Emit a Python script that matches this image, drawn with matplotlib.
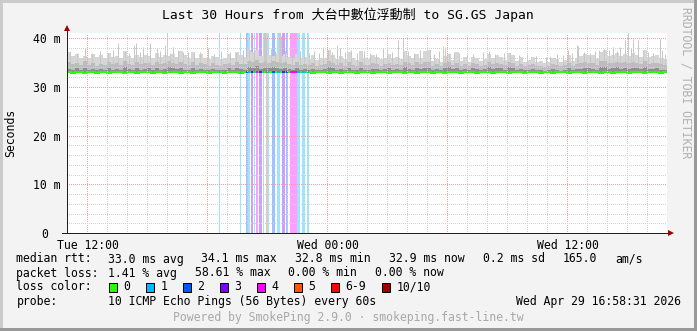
import matplotlib
matplotlib.use("Agg")
import matplotlib.pyplot as plt
from matplotlib.patches import Rectangle, Polygon
from matplotlib.colors import to_rgb
from matplotlib.transforms import ScaledTranslation
from datetime import datetime, timedelta

# ---------------- data ----------------
title = "Last 30 Hours from 大台中數位浮動制 to SG.GS Japan"
end_time = datetime(2026, 4, 29, 16, 58, 31)
span_hours = 30
bin_minutes = 12
x_label_times = [datetime(2026, 4, 28, 12, 0), datetime(2026, 4, 29, 0, 0), datetime(2026, 4, 29, 12, 0)]
y_ticks_ms = [0, 10, 20, 30, 40]
y_tick_labels = ["0", "10 m", "20 m", "30 m", "40 m"]

median_ms = [
    33.0, 32.9, 33.0, 33.0, 32.9, 33.0, 33.0, 32.9, 33.0, 33.0, 32.9, 33.0, 33.0, 33.0, 32.9,
    33.0, 33.0, 32.9, 33.0, 33.0, 33.0, 32.9, 33.0, 33.0, 32.9, 33.0, 33.0, 33.0, 32.9, 33.0,
    33.0, 32.9, 33.0, 33.0, 33.0, 32.9, 33.0, 33.0, 33.0, 32.9, 33.0, 33.0, 33.0, 32.9, 33.0,
    33.0, 33.1, 33.0, 33.1, 33.0, 33.0, 33.1, 33.0, 33.0, 33.1, 33.0, 33.0, 33.1, 33.0, 33.0,
    33.0, 32.9, 33.0, 33.0, 33.0, 32.9, 33.0, 33.0, 32.9, 33.0, 33.0, 33.0, 32.9, 33.0, 33.0,
    33.0, 32.9, 33.0, 33.0, 33.0, 32.9, 33.0, 33.0, 33.0, 32.9, 33.0, 33.0, 32.9, 33.0, 33.0,
    33.0, 32.9, 33.0, 33.0, 32.9, 33.0, 33.0, 33.0, 32.9, 33.0, 33.0, 33.0, 32.9, 33.0, 33.0,
    33.0, 32.9, 33.0, 33.0, 33.0, 32.9, 33.0, 33.0, 33.0, 32.9, 33.0, 33.0, 33.0, 32.9, 33.0,
    33.0, 32.9, 33.0, 33.0, 33.0, 32.9, 33.0, 33.0, 33.0, 32.9, 33.0, 33.0, 33.0, 32.9, 33.0,
    33.0, 32.9, 33.0, 33.0, 33.0, 32.9, 33.0, 33.0, 33.0, 32.9, 33.0, 33.0, 33.0, 32.9, 33.0,
]

smoke_hi = [
    37.2, 36.3, 36.8, 36.0, 36.4, 35.8, 36.8, 36.1, 36.5, 35.9, 36.9, 36.2, 36.4, 35.8, 37.4,
    36.3, 35.9, 36.6, 36.2, 36.5, 36.3, 36.0, 36.9, 36.2, 36.6, 36.4, 36.8, 36.1, 37.4, 36.5,
    35.8, 37.2, 35.9, 36.8, 36.0, 35.6, 36.3, 36.2, 35.7, 35.9, 36.8, 36.0, 37.2, 36.5, 36.2,
    37.5, 37.2, 37.5, 36.4, 36.8, 36.5, 36.3, 36.9, 36.4, 36.8, 36.2, 36.0, 36.8, 35.9, 36.2,
    35.6, 36.5, 35.4, 35.8, 36.0, 37.5, 36.6, 35.7, 36.4, 35.6, 37.2, 35.9, 35.5, 37.4, 35.8,
    35.6, 36.5, 36.2, 35.7, 36.0, 36.8, 35.9, 36.2, 35.7, 37.4, 36.3, 35.9, 36.8, 36.0, 37.4,
    37.5, 35.2, 35.6, 35.0, 36.3, 36.8, 35.4, 37.1, 35.3, 36.2, 35.1, 36.2, 35.9, 35.2, 35.6,
    36.8, 36.0, 36.5, 36.2, 35.4, 36.9, 36.6, 35.3, 36.2, 35.0, 35.4, 36.2, 35.1, 35.2, 34.9,
    35.0, 35.8, 35.6, 35.1, 35.4, 36.6, 35.3, 35.9, 36.3, 36.8, 36.6, 36.5, 35.8, 37.2, 37.5,
    36.3, 36.5, 37.0, 36.4, 36.8, 36.3, 36.9, 36.5, 36.2, 37.5, 36.2, 36.4, 36.5, 36.0, 35.6,
]

smoke_mid = [
    35.0, 34.6, 34.9, 34.4, 35.2, 34.5, 34.8, 34.3, 34.7, 34.5, 35.0, 34.6, 34.9, 34.4, 35.3,
    34.7, 34.4, 35.0, 34.6, 34.8, 34.9, 34.5, 35.1, 34.6, 34.8, 35.2, 34.9, 34.7, 35.0, 34.6,
    34.5, 35.0, 34.4, 34.9, 34.6, 34.3, 34.8, 34.5, 34.3, 34.6, 34.9, 34.4, 35.0, 34.7, 34.6,
    35.3, 35.1, 35.4, 34.8, 35.0, 34.9, 35.2, 35.0, 34.8, 35.1, 34.7, 34.5, 35.0, 34.5, 34.6,
    34.4, 34.8, 34.3, 34.5, 34.6, 35.2, 34.9, 34.4, 34.8, 34.3, 35.0, 34.5, 34.3, 35.1, 34.5,
    34.4, 34.8, 34.6, 34.3, 34.6, 34.9, 34.4, 34.7, 34.4, 35.1, 34.8, 34.5, 35.0, 34.6, 35.0,
    35.0, 34.3, 34.6, 34.2, 34.8, 35.0, 34.4, 34.9, 34.3, 34.7, 34.2, 34.8, 34.6, 34.3, 34.5,
    35.0, 34.6, 34.8, 34.7, 34.4, 35.0, 34.8, 34.3, 34.6, 34.2, 34.4, 34.6, 34.2, 34.3, 34.1,
    34.2, 34.6, 34.5, 34.2, 34.4, 34.9, 34.3, 34.6, 34.8, 35.0, 34.9, 34.8, 34.5, 35.2, 35.3,
    34.8, 34.9, 35.1, 34.8, 35.0, 34.8, 35.1, 34.9, 34.7, 35.3, 34.7, 34.8, 34.9, 34.6, 34.4,
]

smoke_low = [
    33.6, 33.5, 33.8, 33.4, 33.9, 33.5, 33.7, 33.4, 33.6, 33.5, 33.9, 33.5, 33.7, 33.4, 34.0,
    33.6, 33.4, 33.8, 33.5, 33.7, 33.8, 33.5, 33.9, 33.5, 33.7, 34.1, 33.8, 33.6, 33.9, 33.5,
    33.5, 33.8, 33.4, 33.7, 33.5, 33.4, 33.6, 33.5, 33.4, 33.5, 33.8, 33.4, 33.9, 33.6, 33.5,
    34.0, 33.9, 34.2, 33.7, 33.9, 33.8, 34.0, 33.9, 33.7, 33.9, 33.6, 33.5, 33.8, 33.5, 33.6,
    33.5, 33.7, 33.4, 33.5, 33.6, 34.0, 33.8, 33.4, 33.7, 33.4, 33.9, 33.5, 33.4, 33.9, 33.5,
    33.4, 33.7, 33.6, 33.4, 33.6, 33.8, 33.4, 33.6, 33.4, 34.0, 33.7, 33.5, 33.8, 33.6, 33.8,
    33.9, 33.5, 33.7, 33.4, 33.8, 34.0, 33.6, 33.9, 33.5, 33.7, 33.4, 33.8, 33.7, 33.5, 33.6,
    34.0, 33.7, 33.9, 33.8, 33.5, 34.0, 33.8, 33.5, 33.7, 33.4, 33.5, 33.7, 33.4, 33.5, 33.3,
    33.4, 33.6, 33.5, 33.3, 33.5, 33.8, 33.4, 33.6, 33.7, 33.9, 33.8, 33.7, 33.5, 34.0, 34.1,
    33.7, 33.8, 34.0, 33.7, 33.9, 33.7, 33.9, 33.8, 33.6, 34.1, 33.6, 33.7, 33.8, 33.5, 33.4,
]

# thin smoke spikes: minutes after start, top of smoke (ms)
spike_min = [54, 154, 202, 207, 229, 249, 269, 294, 299, 319, 424, 529, 590, 593, 596,
             635, 638, 641, 769, 809, 819, 948, 960, 994, 1009, 1089, 1129, 1134, 1504,
             1529, 1534, 1639, 1659, 1674, 1684, 1699, 1714, 1779, 1784,
             9, 30, 75, 99, 123, 138, 174, 186, 219, 240, 279, 309, 333, 348,
             363, 381, 399, 441, 462, 489, 507, 546, 561, 612, 624, 654, 675, 699, 711,
             726, 741, 756, 783, 795, 834, 852, 870, 891, 909, 927, 975, 1023, 1041, 1059,
             1101, 1116, 1146, 1161, 1176, 1200, 1218, 1248, 1266, 1284, 1311, 1329, 1356,
             1380, 1407, 1437, 1449, 1470, 1488, 1515, 1551, 1569, 1584, 1596, 1611, 1626,
             1650, 1692, 1728, 1743, 1758, 1794]
spike_ms = [37.9, 38.9, 38.6, 39.0, 38.2, 38.9, 37.9, 38.6, 41.5, 38.2, 37.9, 37.5, 41.5, 41.5, 40.0,
            41.5, 41.5, 40.5, 38.2, 38.6, 37.9, 37.9, 37.9, 39.5, 40.1, 37.5, 38.4, 38.2, 37.5,
            38.6, 38.4, 38.2, 38.2, 39.5, 41.5, 39.8, 39.5, 39.8, 37.5,
            37.2, 36.9, 37.0, 37.3, 37.0, 37.6, 37.4, 36.9, 37.2, 37.0, 37.3, 37.0, 37.6, 37.1,
            37.2, 36.9, 37.1, 36.8, 37.3, 37.2, 37.0, 37.6, 37.3, 37.8, 37.4, 37.6, 37.2, 37.4, 37.0,
            36.9, 37.3, 37.0, 37.6, 37.2, 37.1, 37.5, 36.9, 37.4, 37.0, 36.8, 37.2, 37.3, 37.0, 37.6,
            36.8, 37.3, 37.0, 37.2, 36.9, 36.7, 36.8, 37.1, 37.3, 36.8, 37.0, 36.9, 36.6,
            36.8, 36.4, 36.2, 36.3, 36.8, 36.6, 36.9, 37.1, 37.0, 37.3, 37.6, 37.8, 37.5,
            37.4, 37.9, 37.5, 37.2, 37.0, 36.8]

# packet loss events: start minute after start, duration (min), lost pings of 10
loss_start_min = [456, 519, 537, 543, 552, 559.5, 567, 576, 586.5, 597, 600, 614, 629, 644, 657,
                  669, 690, 704, 721]
loss_dur_min = [3, 4, 6, 6, 6, 4.5, 6, 9, 4.5, 3, 6, 10, 10, 10, 6, 21, 9, 10, 6]
loss_count = [1, 1, 2, 1, 3, 1, 4, 3, 1, 5, 1, 2, 1, 3, 2, 4, 1, 1, 1]

loss_labels = ["0", "1", "2", "3", "4", "5", "6-9", "10/10"]
loss_colors = ["#26ff00", "#00b8ff", "#0059ff", "#7e00ff", "#ff00ff", "#ff5500", "#ff0000", "#a10000"]

rtt_head = "median rtt:"
rtt_items = ["33.0 ms avg", "34.1 ms max", "32.8 ms min", "32.9 ms now", "0.2 ms sd", "165.0", "am/s"]
loss_head = "packet loss:"
loss_items = ["1.41 % avg", "58.61 % max", "0.00 % min", "0.00 % now"]
color_head = "loss color:"
probe_label = "probe:"
probe_text = "10 ICMP Echo Pings (56 Bytes) every 60s"
date_text = "Wed Apr 29 16:58:31 2026"
footer = "Powered by SmokePing 2.9.0 · smokeping.fast-line.tw"
watermark = "RRDTOOL / TOBI OETIKER"
y_label = "Seconds"

# ---------------- layout ----------------
W, H, DPI = 697, 331, 100
PX = 72.0 / DPI
MONO = ["DejaVu Sans Mono", "Noto Sans CJK TC"]
FS = 8.3
CW = 0.6021 * FS / PX      # monospace advance in pixels
GAP = 17.5                 # rrdtool legend item gap in pixels

def fx(x):
    return x / W

def fy(y):
    return 1 - y / H

fig = plt.figure(figsize=(W / DPI, H / DPI), dpi=DPI)
fig.patch.set_facecolor("#f3f3f3")

# 3D frame of rrdtool
fig.patches.append(Rectangle((0, fy(3)), 1, 3 / H, transform=fig.transFigure,
                             facecolor="#cbcbcb", lw=0))
fig.patches.append(Rectangle((0, 0), 3 / W, 1, transform=fig.transFigure,
                             facecolor="#cbcbcb", lw=0))
fig.patches.append(Rectangle((fx(W - 3), 0), 3 / W, 1, transform=fig.transFigure,
                             facecolor="#999999", lw=0))
fig.patches.append(Rectangle((0, 0), 1, 3 / H, transform=fig.transFigure,
                             facecolor="#999999", lw=0))

L, R, T, B = 67, 667, 33, 233
ax = fig.add_axes([fx(L), fy(B), (R - L) / W, (B - T) / H])
ax.set_facecolor("white")
for s in ax.spines.values():
    s.set_visible(False)

start_time = end_time - timedelta(hours=span_hours)
span_min = span_hours * 60
ax.set_xlim(0, span_min)
ax.set_ylim(0, (B - T) / 4.875)

def tmin(dt):
    return (dt - start_time).total_seconds() / 60.0

edges = [i * bin_minutes for i in range(len(smoke_hi) + 1)]

def tint(c, a=0.38):
    r, g, b = to_rgb(c)
    return (1 - a + a * r, 1 - a + a * g, 1 - a + a * b)

def loss_idx(n):
    if n <= 5:
        return n
    if n < 10:
        return 6
    return 7

# loss background
for s, d, n in zip(loss_start_min, loss_dur_min, loss_count):
    ax.axvspan(s, s + d, color=tint(loss_colors[loss_idx(n)]), lw=0, zorder=1)

# smoke
ax.stairs(smoke_hi, edges, baseline=median_ms, fill=True, color="#d6d6d6", lw=0, zorder=2)
ax.vlines(spike_min, 33.0, spike_ms, colors="#c8c8c8", lw=1 * PX, zorder=2)
ax.stairs(smoke_mid, edges, baseline=median_ms, fill=True, color="#bdbdbd", lw=0, zorder=3)
ax.stairs(smoke_low, edges, baseline=median_ms, fill=True, color="#8e8e8e", lw=0, zorder=4)

# median line
ax.stairs(median_ms, edges, color=loss_colors[0], lw=2 * PX, zorder=5, baseline=None)
for s, d, n in zip(loss_start_min, loss_dur_min, loss_count):
    i = int(s // bin_minutes)
    ax.hlines(median_ms[i], s, s + d, colors=loss_colors[loss_idx(n)], lw=2 * PX, zorder=6)

# grid
t = start_time.replace(minute=0, second=0) + timedelta(hours=1)
while t < end_time:
    major = t.hour % 6 == 0
    ax.axvline(tmin(t), color="#f0a0a0" if major else "#d2d2d2", lw=1 * PX,
               dashes=(1, 2), zorder=7, antialiased=False)
    t += timedelta(hours=1)
for v in range(2, 42, 2):
    major = v % 10 == 0
    ax.axhline(v, color="#f0a0a0" if major else "#d2d2d2", lw=1 * PX,
               dashes=(1, 2), zorder=7, antialiased=False)

# ticks
ax.set_xticks([tmin(d) for d in x_label_times],
              [d.strftime("%a %H:%M") for d in x_label_times])
ax.set_yticks(y_ticks_ms, y_tick_labels)
ax.tick_params(axis="both", length=0, labelsize=FS, colors="#000000")
ax.tick_params(axis="x", pad=4)
ax.tick_params(axis="y", pad=5)
for lab in ax.get_xticklabels() + ax.get_yticklabels():
    lab.set_family(MONO)
zero_lab = ax.yaxis.get_major_ticks()[0].label1
zero_lab.set_transform(zero_lab.get_transform() + ScaledTranslation(-11.5 / DPI, 0, fig.dpi_scale_trans))

# axes lines with arrows
ax.plot([0, 0], [-0.1, 41.6], color="#202020", lw=1 * PX, clip_on=False, zorder=8)
ax.plot([-15, span_min + 9], [0, 0], color="#202020", lw=1 * PX, clip_on=False, zorder=8)
axis_red = "#a00000"
fig.patches.append(Polygon([(fx(64), fy(31)), (fx(70), fy(31)), (fx(67), fy(25))],
                           closed=True, transform=fig.transFigure, color=axis_red, lw=0))
fig.patches.append(Polygon([(fx(668), fy(230)), (fx(668), fy(236)), (fx(674), fy(233))],
                           closed=True, transform=fig.transFigure, color=axis_red, lw=0))

# texts
fig.text(fx(348), fy(15), title, ha="center", va="center", fontsize=9.4, family=MONO)
fig.text(fx(11), fy(133), y_label, ha="center", va="center", rotation=90, fontsize=FS, family=MONO)
fig.text(fx(686), fy(83), watermark, ha="center", va="center", rotation=270, fontsize=FS,
         family=MONO, color="#b0b0b0")

def legend_row(y, head, items, x0=107.6):
    fig.text(fx(16.4), fy(y), head, ha="left", va="center", fontsize=FS, family=MONO)
    x = x0
    for it in items:
        fig.text(fx(x), fy(y), it, ha="left", va="center", fontsize=FS, family=MONO)
        x += len(it) * CW + GAP

legend_row(259, rtt_head, rtt_items)
legend_row(273, loss_head, loss_items)
fig.text(fx(16.4), fy(287), color_head, ha="left", va="center", fontsize=FS, family=MONO)
x = 108.5
for lab, col in zip(loss_labels, loss_colors):
    fig.patches.append(Rectangle((fx(x), fy(291.5)), 8 / W, 9 / H, transform=fig.transFigure,
                                 facecolor=col, edgecolor="black", lw=1 * PX))
    fig.text(fx(x + 15), fy(287), lab, ha="left", va="center", fontsize=FS, family=MONO)
    x += 15 + 7 * len(lab) + 15
legend_row(301, probe_label, [probe_text])
fig.text(fx(681), fy(301), date_text, ha="right", va="center", fontsize=FS, family=MONO)
fig.text(fx(348.5), fy(318), footer, ha="center", va="center", fontsize=FS, family=MONO,
         color="#a8a8a8")

fig.savefig("out.png", dpi=DPI, facecolor=fig.get_facecolor())
